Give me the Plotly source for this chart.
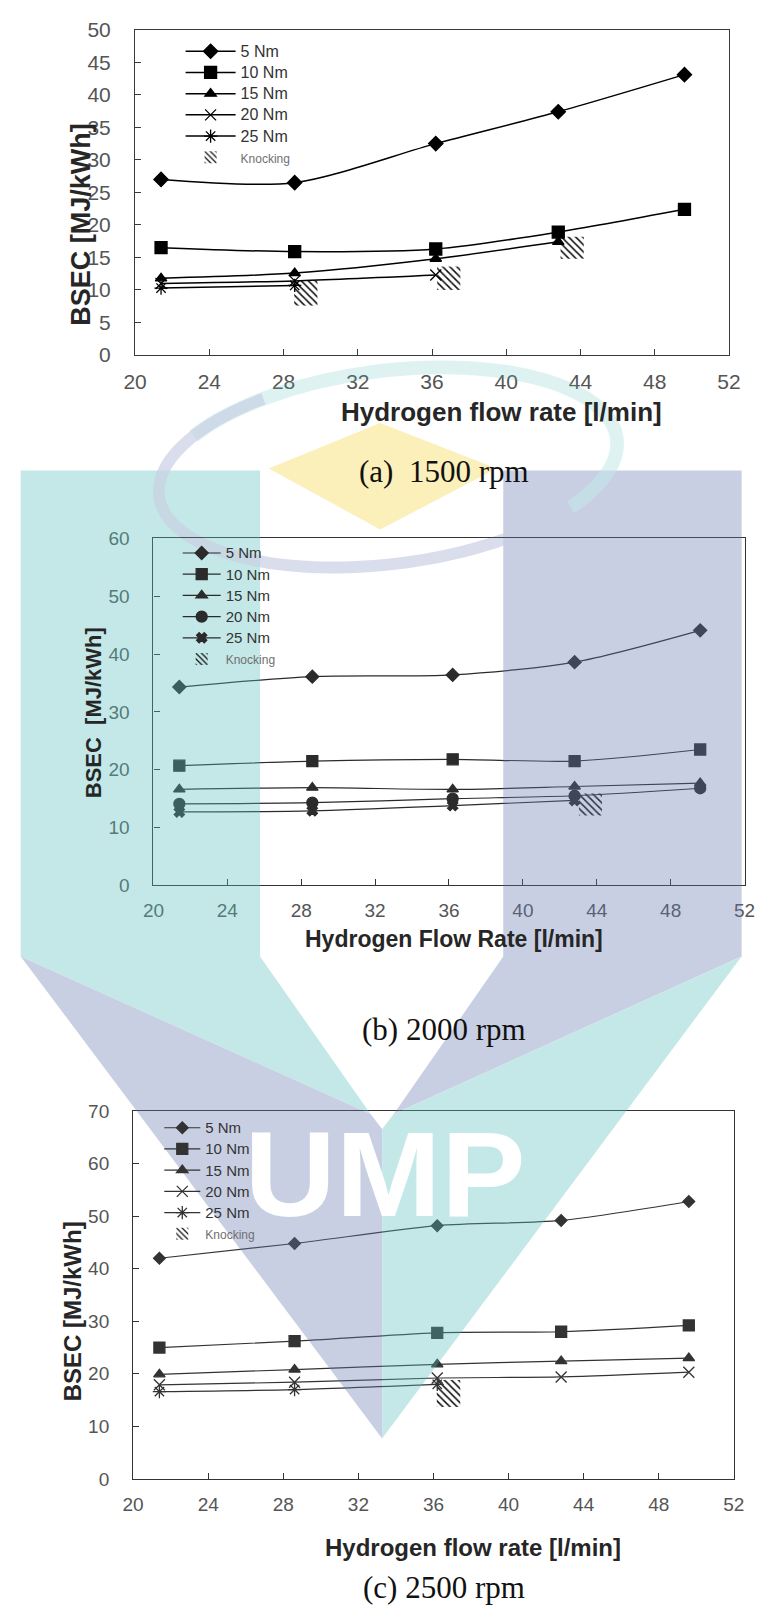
import base64
import numpy as np
import plotly.graph_objects as go

W, H = 773, 1618

# ---------------- data ----------------
flow = [21.4, 28.6, 36.2, 42.8, 49.6]
torques = ["5 Nm", "10 Nm", "15 Nm", "20 Nm", "25 Nm"]

a_5 = [27.0, 26.5, 32.5, 37.4, 43.1]
a_10 = [16.5, 15.9, 16.3, 18.9, 22.4]
a_15 = [11.8, 12.6, 14.8, 17.4, None]
a_20 = [11.0, 11.4, 12.3, None, None]
a_25 = [10.3, 10.7, None, None, None]
a_knock_x = [29.2, 36.9, 43.55]
a_knock_lo = [7.6, 10.0, 14.8]
a_knock_hi = [11.5, 13.6, 18.2]

b_5 = [34.3, 36.1, 36.4, 38.6, 44.1]
b_10 = [20.7, 21.5, 21.8, 21.5, 23.5]
b_15 = [16.6, 16.9, 16.6, 17.1, 17.7]
b_20 = [14.1, 14.3, 15.0, 15.5, 16.8]
b_25 = [12.7, 12.9, 13.8, 14.7, None]
b_knock_x = [43.66]
b_knock_lo = [12.1]
b_knock_hi = [15.9]

c_5 = [42.0, 44.8, 48.2, 49.2, 52.8]
c_10 = [25.0, 26.2, 27.8, 28.0, 29.2]
c_15 = [19.9, 20.8, 21.8, 22.4, 23.0]
c_20 = [17.9, 18.4, 19.2, 19.4, 20.3]
c_25 = [16.6, 17.0, 18.0, None, None]
c_knock_x = [36.8]
c_knock_lo = [13.7]
c_knock_hi = [18.8]

x_ticks = [20, 24, 28, 32, 36, 40, 44, 48, 52]


def px(x):
    return x / W


def py(y):
    return 1 - y / H


panels = [
    dict(xa="x", ya="y", leg="legend", series=[a_5, a_10, a_15, a_20, a_25],
         symbols=["diamond", "square", "triangle-up", "x-thin-open", "asterisk-open"],
         sizes=[11, 12, 10, 11, 11], color="#000000", lw=1.5, name_px=16,
         knock=(a_knock_x, a_knock_lo, a_knock_hi)),
    dict(xa="x2", ya="y2", leg="legend2", series=[b_5, b_10, b_15, b_20, b_25],
         symbols=["diamond", "square", "triangle-up", "circle", "x"],
         sizes=[10, 11, 10, 11, 9], color="#2b2b2b", lw=1.2, name_px=15,
         knock=(b_knock_x, b_knock_lo, b_knock_hi)),
    dict(xa="x3", ya="y3", leg="legend3", series=[c_5, c_10, c_15, c_20, c_25],
         symbols=["diamond", "square", "triangle-up", "x-thin-open", "asterisk-open"],
         sizes=[9, 11, 10, 11, 11], color="#333333", lw=1.2, name_px=15,
         knock=(c_knock_x, c_knock_lo, c_knock_hi)),
]

fig = go.Figure()
for p in panels:
    for name, ys, sym, sz in zip(torques, p["series"], p["symbols"], p["sizes"]):
        fig.add_trace(go.Scatter(
            x=flow, y=ys, mode="lines+markers",
            name=f"<span style='font-size:{p['name_px']}px'>{name}</span>",
            xaxis=p["xa"], yaxis=p["ya"], legend=p["leg"],
            line=dict(color=p["color"], width=p["lw"], shape="spline", smoothing=0.8),
            marker=dict(symbol=sym, size=sz, color=p["color"],
                        line=dict(color=p["color"], width=1.3)),
        ))
    kx, klo, khi = p["knock"]
    fig.add_trace(go.Bar(
        x=kx, base=klo, y=[h - l for h, l in zip(khi, klo)], width=1.25,
        name="<span style='font-size:12px;color:#6f6f6f'>Knocking</span>",
        xaxis=p["xa"], yaxis=p["ya"], legend=p["leg"],
        marker=dict(color="#111111", line=dict(width=0),
                    pattern=dict(shape="\\", size=5, solidity=0.32,
                                 fgcolor="#111111", bgcolor="rgba(0,0,0,0)",
                                 fillmode="replace")),
    ))

# ---------------- axes ----------------
boxes = [  # left, right, top, bottom (px)
    (127, 740, 18, 348),
    (146, 756, 534, 886),
    (125, 745, 1115, 1488),
]
y_ranges = [(0, 50, 5), (0, 60, 10), (0, 70, 10)]
tick_sizes = [21, 19, 19]
line_cols = ["#3a3a3a", "#333333", "#333333"]

layout_axes = {}
for i, ((l, r, t, b), (y0, y1, dy), ts, lc) in enumerate(zip(boxes, y_ranges, tick_sizes, line_cols)):
    sx = "" if i == 0 else str(i + 1)
    common = dict(showline=True, linecolor=lc, linewidth=1.2, mirror=True,
                  ticks="inside", ticklen=6, tickwidth=1, tickcolor=lc,
                  showgrid=False, zeroline=False,
                  tickfont=dict(family="Liberation Sans, Arial", size=ts, color="#555555"))
    layout_axes["xaxis" + sx] = dict(domain=[px(l), px(r)], anchor="y" + sx,
                                     range=[20, 52], tickvals=x_ticks,
                                     ticklabelstandoff=8, **common)
    layout_axes["yaxis" + sx] = dict(domain=[py(b), py(t)], anchor="x" + sx,
                                     range=[y0, y1], dtick=dy, tick0=0,
                                     ticklabelstandoff=19, **common)

# ---------------- legends ----------------
def legend_at(x, y, iw):
    return dict(x=px(x), y=py(y), xanchor="left", yanchor="top",
                bgcolor="rgba(0,0,0,0)",
                font=dict(family="Liberation Sans, Arial", size=14, color="#333333"),
                tracegroupgap=0, itemwidth=iw)


legends = dict(
    legend=legend_at(174, 24, 50),
    legend2=legend_at(171, 533, 38),
    legend3=legend_at(152, 1116, 36),
)

# ---------------- texts ----------------
def ann(text, x, y, size, family="Liberation Sans, Arial", bold=True, angle=0, color="#262626"):
    return dict(text=text, x=px(x), y=py(y), xref="paper", yref="paper",
                xanchor="center", yanchor="middle", showarrow=False, textangle=angle,
                font=dict(family=family, size=size, color=color,
                          weight="bold" if bold else "normal"))


serif = "Liberation Serif, Times New Roman, serif"
annotations = [
    ann("Hydrogen flow rate [l/min]", 505, 406, 26),
    ann("BSEC [MJ/kWh]", 71, 215, 27, angle=-90),
    ann("(a)\u00a0\u00a01500 rpm", 446, 466, 31, family=serif, bold=False, color="#111111"),
    ann("Hydrogen Flow Rate [l/min]", 456, 940, 23),
    ann("BSEC\u00a0\u00a0[MJ/kWh]", 85, 711, 22, angle=-90),
    ann("(b) 2000 rpm", 446, 1032, 31, family=serif, bold=False, color="#111111"),
    ann("Hydrogen flow rate [l/min]", 476, 1558, 24),
    ann("BSEC [MJ/kWh]", 62, 1318, 24, angle=-90),
    ann("(c) 2500 rpm", 446, 1598, 31, family=serif, bold=False, color="#111111"),
]

# ---------------- watermark (decorative background logo) ----------------
T, L, Y = "#56c0bd", "#6579b2", "#f6d43d"
cx, cy, rx, ry, rot = 388, 462, 238, 98, np.radians(-7)


def ell(t0, t1, n=80):
    ts = np.radians(np.linspace(t0, t1, n))
    xs = cx + rx * np.cos(ts) * np.cos(rot) - ry * np.sin(ts) * np.sin(rot)
    ys = cy + rx * np.cos(ts) * np.sin(rot) + ry * np.sin(ts) * np.cos(rot)
    return "M" + " L".join(f"{a:.1f},{b:.1f}" for a, b in zip(xs, ys))


svg = f'''<svg xmlns="http://www.w3.org/2000/svg" width="{W}" height="{H}" viewBox="0 0 {W} {H}">
<polygon points="9,465 256,465 256,958 370,1118 9,958" fill="{T}"/>
<polygon points="9,958 370,1118 382,1133 382,1447" fill="{L}"/>
<polygon points="507,465 753,465 753,958 394,1118 507,958" fill="{L}"/>
<polygon points="753,958 394,1118 382,1133 382,1447" fill="{T}"/>
<path d="{ell(215, 400)}" fill="none" stroke="{T}" stroke-width="14" stroke-opacity="0.55"/>
<path d="{ell(240, 60)}" fill="none" stroke="{L}" stroke-width="12" stroke-opacity="0.7"/>
<polygon points="265,463 380,417 500,463 380,525" fill="{Y}"/>
<text x="240" y="1221" font-family="Liberation Sans, Arial, sans-serif" font-weight="bold"
 font-size="122" fill="white" textLength="290" lengthAdjust="spacingAndGlyphs">UMP</text>
</svg>'''
svg_uri = "data:image/svg+xml;base64," + base64.b64encode(svg.encode()).decode()

fig.update_layout(
    width=W, height=H, margin=dict(l=0, r=0, t=0, b=0),
    paper_bgcolor="white", plot_bgcolor="white",
    showlegend=True, annotations=annotations,
    images=[dict(source=svg_uri, xref="paper", yref="paper", x=0, y=1,
                 sizex=1, sizey=1, xanchor="left", yanchor="top",
                 sizing="stretch", layer="above", opacity=0.35)],
    **layout_axes, **legends,
)

fig.write_html("out.html")
